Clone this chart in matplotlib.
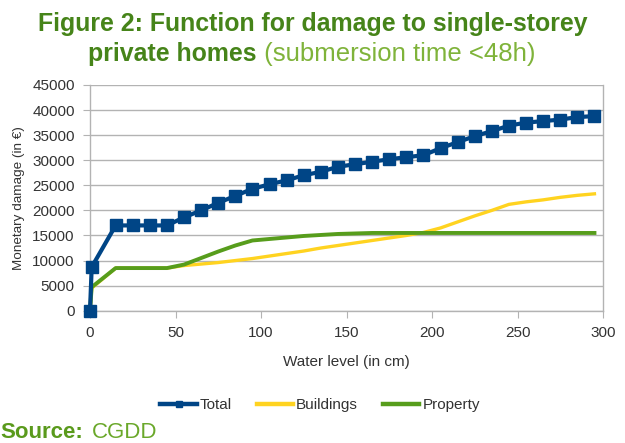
import matplotlib
matplotlib.use("Agg")
import matplotlib.pyplot as plt
from matplotlib.lines import Line2D

plt.rcParams['font.family'] = ['Liberation Sans', 'DejaVu Sans']

# Data
total_x = [0, 1, 15, 25, 35, 45, 55, 65, 75, 85, 95, 105, 115, 125, 135, 145, 155,
           165, 175, 185, 195, 205, 215, 225, 235, 245, 255, 265, 275, 285, 295]
total_y = [0, 8700, 17000, 17000, 17000, 17000, 18600, 20000, 21500, 22900, 24300,
           25200, 26000, 27000, 27700, 28700, 29200, 29700, 30200, 30600, 31000,
           32400, 33600, 34800, 35800, 36900, 37500, 37800, 38100, 38600, 38800]
buildings_y = [0, 4500, 8500, 8500, 8500, 8500, 9000, 9300, 9600, 10000, 10400,
               10900, 11400, 11900, 12500, 13000, 13500, 14000, 14500, 15000, 15600,
               16500, 17700, 18900, 20000, 21200, 21700, 22100, 22600, 23000, 23300]
property_y = [0, 4700, 8500, 8500, 8500, 8500, 9200, 10500, 11800, 13000, 14000,
              14300, 14600, 14900, 15100, 15300, 15400, 15500, 15500, 15500, 15500,
              15500, 15500, 15500, 15500, 15500, 15500, 15500, 15500, 15500, 15500]
series_names = ["Total", "Buildings", "Property"]
x_ticks = [0, 50, 100, 150, 200, 250, 300]
y_ticks = [0, 5000, 10000, 15000, 20000, 25000, 30000, 35000, 40000, 45000]

c_total = "#004586"
c_build = "#ffd320"
c_prop = "#579d1c"
grid_c = "#b3b3b3"
dark_green = "#468419"
light_green = "#7fb33a"

W, H = 625, 443
fig = plt.figure(figsize=(W/100, H/100), dpi=100)
ax = fig.add_axes([90/W, 1 - 310.7/H, (603-90)/W, (310.7-85)/H])

ax.plot(total_x, buildings_y, color=c_build, lw=2.4, zorder=3, clip_on=False)
ax.plot(total_x, property_y, color=c_prop, lw=2.8, zorder=4, clip_on=False)
ax.plot(total_x, total_y, color=c_total, lw=3.0, marker='s', markersize=9,
        markeredgecolor=c_total, zorder=5, clip_on=False)

ax.set_xlim(0, 300)
ax.set_ylim(0, 45000)
ax.set_xticks(x_ticks)
ax.set_yticks(y_ticks)
ax.tick_params(axis='both', labelsize=11, colors='#333333', length=5, width=0.8,
               color=grid_c)
ax.tick_params(axis='x', pad=6)
ax.tick_params(axis='y', pad=6)
ax.yaxis.grid(True, color=grid_c, lw=1.0)
ax.set_axisbelow(True)
for s in ax.spines.values():
    s.set_color(grid_c)
    s.set_linewidth(1.0)
ax.spines['top'].set_visible(False)

ax.set_xlabel("Water level (in cm)", fontsize=11, color='#333333', labelpad=11)
ax.set_ylabel("Monetary damage (in €)", fontsize=9.7, color='#333333', labelpad=5)

handles = [
    Line2D([], [], color=c_total, lw=3.2, marker='s', markersize=5, markevery=[1]),
    Line2D([], [], color=c_build, lw=3.2),
    Line2D([], [], color=c_prop, lw=3.2),
]
fig.legend(handles, series_names, loc='center', bbox_to_anchor=(320/W, 1 - 405/H),
           ncol=3, frameon=False, fontsize=11, handlelength=2.4, handletextpad=0.2,
           columnspacing=1.6, labelcolor='#333333')

# Title
fs_t = 17.9
fig.text(313/W, 1 - 31/H, "Figure 2: Function for damage to single-storey",
         ha='center', va='baseline', fontsize=fs_t, fontweight='bold', color=dark_green)
fig.canvas.draw()
r = fig.canvas.get_renderer()
ta = fig.text(0, 1 - 61/H, "private homes", ha='left', va='baseline', fontsize=fs_t,
              fontweight='bold', color=dark_green)
tb = fig.text(0, 1 - 61/H, " (submersion time <48h)", ha='left', va='baseline',
              fontsize=18.5, color=light_green)
wa = ta.get_window_extent(r).width
wb = tb.get_window_extent(r).width
x0 = 312 - (wa + wb) / 2
ta.set_x(x0 / W)
tb.set_x((x0 + wa) / W)

fig.text(0.5/W, 1 - 432/H, "Source:", ha='left', va='center', fontsize=16,
         fontweight='bold', color='#5a9a1c')
fig.text(92/W, 1 - 432/H, "CGDD", ha='left', va='center', fontsize=16,
         color='#6aa82a')

fig.savefig("out.png", dpi=100)
